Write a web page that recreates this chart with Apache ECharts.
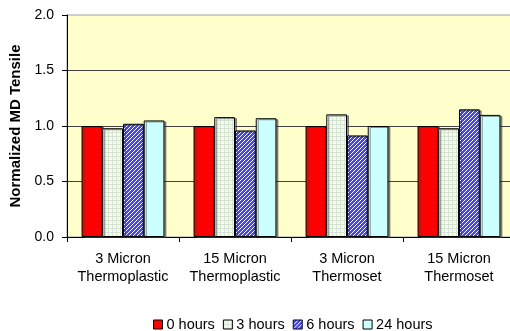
<!DOCTYPE html>
<html>
<head>
<meta charset="utf-8">
<script src="https://cdn.jsdelivr.net/npm/echarts@6/dist/echarts.min.js"></script>
<style>
  html, body { margin: 0; padding: 0; background: #ffffff; }
  #chart { width: 510px; height: 331px; }
</style>
</head>
<body>
<div id="chart"></div>
<script>
// Sample groups on the category axis
const categories = [
  '3 Micron\nThermoplastic',
  '15 Micron\nThermoplastic',
  '3 Micron\nThermoset',
  '15 Micron\nThermoset'
];

// Exposure times (legend entries)
const seriesNames = ['0 hours', '3 hours', '6 hours', '24 hours'];

// Normalized MD tensile per exposure time
const hours0  = [1.00, 1.00, 1.00, 1.00];
const hours3  = [0.98, 1.08, 1.105, 0.98];
const hours6  = [1.02, 0.96, 0.915, 1.15];
const hours24 = [1.05, 1.07, 1.00, 1.10];

// Y-axis tick values
const yTicks = [0.0, 0.5, 1.0, 1.5, 2.0];

const FONT = '"Liberation Sans", Arial, sans-serif';

// Small repeating fill patterns for the hatched bars
function gridPattern() {
  const c = document.createElement('canvas');
  c.width = 4; c.height = 4;
  const g = c.getContext('2d');
  g.fillStyle = '#F4FAF1';
  g.fillRect(0, 0, 4, 4);
  g.fillStyle = '#D6E4D2';
  g.fillRect(0, 0, 4, 1);
  g.fillRect(0, 0, 1, 4);
  return c;
}
function diagPattern() {
  const c = document.createElement('canvas');
  c.width = 4; c.height = 4;
  const g = c.getContext('2d');
  g.fillStyle = '#4444F5';
  g.fillRect(0, 0, 4, 4);
  g.fillStyle = '#FFFFFF';
  for (let y = 0; y < 4; y++) {
    for (let x = 0; x < 4; x++) {
      if ((x + y) % 4 === 0) g.fillRect(x, y, 1, 1);
    }
  }
  return c;
}

const fills = [
  '#FF0000',
  { image: gridPattern(), repeat: 'repeat' },
  { image: diagPattern(), repeat: 'repeat' },
  '#CCFFFF'
];
const values = [hours0, hours3, hours6, hours24];

const chart = echarts.init(document.getElementById('chart'), null, { renderer: 'canvas' });

chart.setOption({
  animation: false,
  backgroundColor: '#ffffff',
  textStyle: { fontFamily: FONT, color: '#000' },
  grid: {
    left: 67, right: -5, top: 15, bottom: 94,
    containLabel: false,
    outerBoundsMode: 'none',
    show: true,
    backgroundColor: '#FFFFCC',
    borderColor: '#A0A0A0',
    borderWidth: 1
  },
  legend: {
    left: 148,
    top: 312,
    itemWidth: 9,
    itemHeight: 9,
    itemGap: 8,
    textStyle: { fontFamily: FONT, fontSize: 14.5, color: '#000', padding: [0, 0, 0, -1] },
    data: seriesNames.map(n => ({ name: n, icon: 'rect' })),
    itemStyle: { borderColor: '#000', borderWidth: 1 }
  },
  xAxis: {
    type: 'category',
    data: categories,
    axisLine: { lineStyle: { color: '#000', width: 1 } },
    axisTick: { show: true, length: 5, alignWithLabel: false, lineStyle: { color: '#000' } },
    axisLabel: {
      fontFamily: FONT, fontSize: 14.5, color: '#000',
      lineHeight: 18, margin: 13, interval: 0
    },
    splitLine: { show: false }
  },
  yAxis: {
    type: 'value',
    min: yTicks[0],
    max: yTicks[yTicks.length - 1],
    interval: 0.5,
    name: 'Normalized MD Tensile',
    nameLocation: 'middle',
    nameGap: 42,
    nameRotate: 90,
    nameTextStyle: { fontFamily: FONT, fontSize: 15, fontWeight: 'bold', color: '#000' },
    axisLine: { show: true, lineStyle: { color: '#000', width: 1 } },
    axisTick: { show: true, length: 5, lineStyle: { color: '#000' } },
    axisLabel: {
      fontFamily: FONT, fontSize: 14, color: '#000', margin: 13,
      formatter: v => v.toFixed(1)
    },
    splitLine: {
      show: true,
      showMinLine: false,
      showMaxLine: false,
      lineStyle: { color: '#404040', width: 1 }
    }
  },
  series: seriesNames.map((name, i) => ({
    name: name,
    type: 'bar',
    data: values[i],
    barGap: '0%',
    barCategoryGap: '26%',
    itemStyle: {
      color: fills[i],
      borderColor: '#000',
      borderWidth: 1,
      shadowColor: 'rgba(60,60,60,0.55)',
      shadowOffsetX: 2,
      shadowOffsetY: 1,
      shadowBlur: 0
    }
  }))
});
</script>
</body>
</html>
